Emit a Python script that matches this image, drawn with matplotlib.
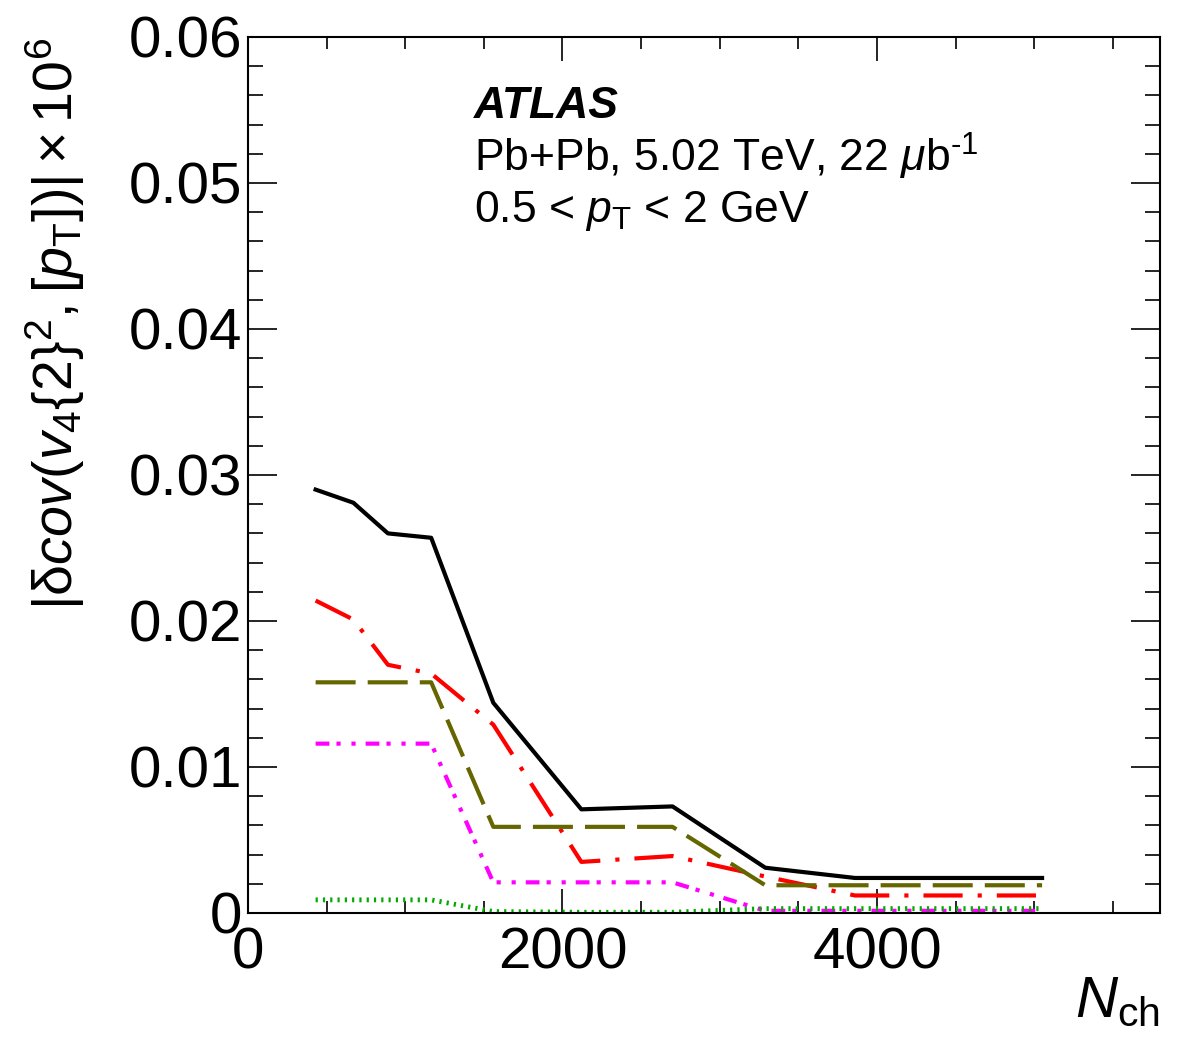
import numpy as np
import matplotlib
matplotlib.use("Agg")
import matplotlib.pyplot as plt
from matplotlib.ticker import MultipleLocator

plt.rcParams['font.family'] = ['Liberation Sans', 'DejaVu Sans']
plt.rcParams['mathtext.fontset'] = 'custom'
plt.rcParams['mathtext.rm'] = 'Liberation Sans'
plt.rcParams['mathtext.it'] = 'Liberation Sans:italic'
plt.rcParams['mathtext.bf'] = 'Liberation Sans:bold'

# Nch bin centres and systematic contributions
nch = [430, 670, 890, 1165, 1560, 2120, 2700, 3290, 3860, 5050]
total = [0.0290, 0.0281, 0.0260, 0.0257, 0.0144, 0.0071, 0.0073, 0.0031, 0.0024, 0.0024]
red_src = [0.0214, 0.0201, 0.0170, 0.0164, 0.0129, 0.0035, 0.0039, 0.0025, 0.0012, 0.0012]
olive_src = [0.0158, 0.0158, 0.0158, 0.0158, 0.0059, 0.0059, 0.0059, 0.0019, 0.0019, 0.0019]
magenta_src = [0.0116, 0.0116, 0.0116, 0.0116, 0.0021, 0.0021, 0.0021, 0.00015, 0.00015, 0.00015]
green_src = [0.0009, 0.0009, 0.0009, 0.0009, 0.0001, 0.00005, 0.00005, 0.0003, 0.0003, 0.0003]

fig = plt.figure(figsize=(11.82, 10.59), dpi=100)
ax = fig.add_axes([248/1182, 1-913/1059, (1160-248)/1182, (913-37)/1059])

ax.plot(nch, total, color='black', lw=3)
ax.plot(nch, red_src, color='#ff0000', lw=3, linestyle=(0, (9.4, 3.6, 1.0, 3.6)))
ax.plot(nch, olive_src, color='#666600', lw=3, linestyle=(0, (9.6, 2.9)))
ax.plot(nch, magenta_src, color='#ff00ff', lw=3, linestyle=(0, (3.3, 1.7, 1.0, 2.6, 1.0, 2.4)))
ax.plot(nch, green_src, color='#00aa00', lw=3.5, linestyle=(0, (0.45, 1.05)))

ax.set_xlim(0, 5800)
ax.set_ylim(0, 0.06)
ax.xaxis.set_major_locator(MultipleLocator(2000))
ax.xaxis.set_minor_locator(MultipleLocator(500))
ax.yaxis.set_major_locator(MultipleLocator(0.01))
ax.yaxis.set_minor_locator(MultipleLocator(0.002))
ax.set_yticks([0, 0.01, 0.02, 0.03, 0.04, 0.05, 0.06])
ax.set_yticklabels(['0', '0.01', '0.02', '0.03', '0.04', '0.05', '0.06'])
ax.set_xticks([0, 2000, 4000])
ax.set_xticklabels(['0', '2000', '4000'])

for s in ax.spines.values():
    s.set_linewidth(1.5)
ax.tick_params(which='both', direction='in', top=True, right=True, width=1.2)
ax.tick_params(axis='x', which='major', length=17, labelsize=42, pad=10)
ax.tick_params(axis='x', which='minor', length=8.5)
ax.tick_params(axis='y', which='major', length=21, labelsize=42, pad=4)
ax.tick_params(axis='y', which='minor', length=11)

fig.text(55/1182, 1-38/1059,
         r'$|\mathrm{\delta}cov(v_{4}\{2\}^{2},[p_{\mathrm{T}}])| \times 10^{6}$',
         rotation=90, ha='center', va='top', fontsize=40)
fig.text(1160/1182, 1-975/1059, r'$N_{\mathrm{ch}}$', ha='right', va='top', fontsize=42)

fig.text(474/1182, 1-118/1059, 'ATLAS', fontsize=32, fontweight='bold', fontstyle='italic')
fig.text(474/1182, 1-172/1059, r'Pb+Pb, 5.02 TeV, 22 $\mu$b$^{\text{-1}}$', fontsize=32)
fig.text(474/1182, 1-222/1059, r'0.5 < $p_{\mathrm{T}}$ < 2 GeV', fontsize=32)

fig.savefig('out.png', dpi=100)
